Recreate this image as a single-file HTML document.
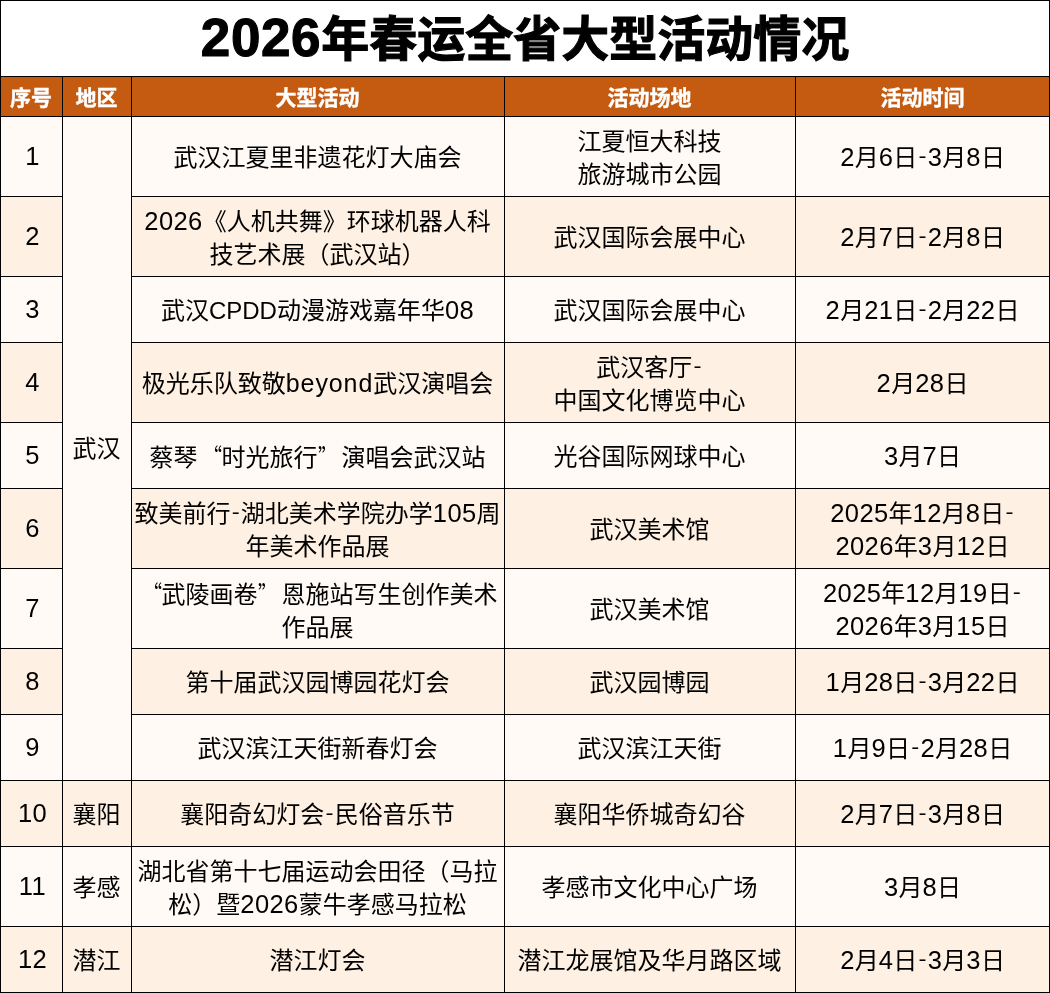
<!DOCTYPE html>
<html lang="zh-CN">
<head>
<meta charset="utf-8">
<title>2026年春运全省大型活动情况</title>
<style>
html,body{margin:0;padding:0;background:#fff;}
body{width:1050px;height:993px;position:relative;overflow:hidden;
  font-family:"Liberation Sans","Noto Sans CJK SC",sans-serif;color:#000;}
.c{position:absolute;display:flex;align-items:center;justify-content:center;text-align:center;
  font-size:24px;line-height:33px;box-sizing:border-box;white-space:nowrap;}
.c>div{position:relative;top:2px;}
.c>div.s{top:1.5px;}
.d{font-size:25.5px;letter-spacing:0.4px;line-height:0;position:relative;top:-0.5px;}
.c>div.n{top:1px;left:1.5px;}
.y{display:inline-block;line-height:0;margin:0 1.2px;transform:translateY(-1.6px) scaleY(0.85);}
.e{font-size:25px;letter-spacing:0.9px;}
.h{color:#fff;font-weight:bold;font-size:21px;background:#C55A11;-webkit-text-stroke:0.4px #fff;}
.h>div{top:1.5px;}
.t{font-weight:bold;font-size:48px;background:#fff;line-height:56px;-webkit-text-stroke:1.1px #000;}
.t>div{top:2.2px;}
.t .d{font-size:53px;letter-spacing:0.6px;top:0;line-height:0;}
.l{position:absolute;background:#000;}
.ql,.qr{display:inline-block;width:24px;font-family:"Noto Sans CJK SC",sans-serif;}
.ql{text-align:right;transform-origin:100% 50%;transform:scaleX(0.78);}
.qr{text-align:left;transform-origin:0 50%;transform:scaleX(0.78);}
</style>
</head>
<body>

<div class="c t" style="left:0px;top:0px;width:1050px;height:76px;"><div><span class="d">2026</span>年春运全省大型活动情况</div></div>
<div class="c h" style="left:0px;top:76px;width:62px;height:40px;"><div>序号</div></div>
<div class="c h" style="left:62px;top:76px;width:69px;height:40px;"><div>地区</div></div>
<div class="c h" style="left:131px;top:76px;width:373px;height:40px;"><div>大型活动</div></div>
<div class="c h" style="left:504px;top:76px;width:291px;height:40px;"><div>活动场地</div></div>
<div class="c h" style="left:795px;top:76px;width:255px;height:40px;"><div>活动时间</div></div>
<div class="c" style="left:0px;top:116px;width:62px;height:80px;background:#FFFAF6;"><div class="n"><span class="d">1</span></div></div>
<div class="c" style="left:131px;top:116px;width:373px;height:80px;background:#FFFAF6;"><div class="s">武汉江夏里非遗花灯大庙会</div></div>
<div class="c" style="left:504px;top:116px;width:291px;height:80px;background:#FFFAF6;"><div>江夏恒大科技<br>旅游城市公园</div></div>
<div class="c" style="left:795px;top:116px;width:255px;height:80px;background:#FFFAF6;"><div class="s"><span class="d">2</span>月<span class="d">6</span>日<span class="y">-</span><span class="d">3</span>月<span class="d">8</span>日</div></div>
<div class="c" style="left:0px;top:196px;width:62px;height:80px;background:#FEF0E2;"><div class="n"><span class="d">2</span></div></div>
<div class="c" style="left:131px;top:196px;width:373px;height:80px;background:#FEF0E2;"><div><span class="d">2026</span>《人机共舞》环球机器人科<br>技艺术展（武汉站）</div></div>
<div class="c" style="left:504px;top:196px;width:291px;height:80px;background:#FEF0E2;"><div class="s">武汉国际会展中心</div></div>
<div class="c" style="left:795px;top:196px;width:255px;height:80px;background:#FEF0E2;"><div class="s"><span class="d">2</span>月<span class="d">7</span>日<span class="y">-</span><span class="d">2</span>月<span class="d">8</span>日</div></div>
<div class="c" style="left:0px;top:276px;width:62px;height:66px;background:#FFFAF6;"><div class="n"><span class="d">3</span></div></div>
<div class="c" style="left:131px;top:276px;width:373px;height:66px;background:#FFFAF6;"><div class="s">武汉CPDD动漫游戏嘉年华<span class="d">08</span></div></div>
<div class="c" style="left:504px;top:276px;width:291px;height:66px;background:#FFFAF6;"><div class="s">武汉国际会展中心</div></div>
<div class="c" style="left:795px;top:276px;width:255px;height:66px;background:#FFFAF6;"><div class="s"><span class="d">2</span>月<span class="d">21</span>日<span class="y">-</span><span class="d">2</span>月<span class="d">22</span>日</div></div>
<div class="c" style="left:0px;top:342px;width:62px;height:80px;background:#FEF0E2;"><div class="n"><span class="d">4</span></div></div>
<div class="c" style="left:131px;top:342px;width:373px;height:80px;background:#FEF0E2;"><div class="s">极光乐队致敬<span class="e">beyond</span>武汉演唱会</div></div>
<div class="c" style="left:504px;top:342px;width:291px;height:80px;background:#FEF0E2;"><div>武汉客厅<span class="y">-</span><br>中国文化博览中心</div></div>
<div class="c" style="left:795px;top:342px;width:255px;height:80px;background:#FEF0E2;"><div class="s"><span class="d">2</span>月<span class="d">28</span>日</div></div>
<div class="c" style="left:0px;top:422px;width:62px;height:66px;background:#FFFAF6;"><div class="n"><span class="d">5</span></div></div>
<div class="c" style="left:131px;top:422px;width:373px;height:66px;background:#FFFAF6;"><div class="s">蔡琴<span class="ql">“</span>时光旅行<span class="qr">”</span>演唱会武汉站</div></div>
<div class="c" style="left:504px;top:422px;width:291px;height:66px;background:#FFFAF6;"><div class="s">光谷国际网球中心</div></div>
<div class="c" style="left:795px;top:422px;width:255px;height:66px;background:#FFFAF6;"><div class="s"><span class="d">3</span>月<span class="d">7</span>日</div></div>
<div class="c" style="left:0px;top:488px;width:62px;height:80px;background:#FEF0E2;"><div class="n"><span class="d">6</span></div></div>
<div class="c" style="left:131px;top:488px;width:373px;height:80px;background:#FEF0E2;"><div>致美前行<span class="y">-</span>湖北美术学院办学<span class="d">105</span>周<br>年美术作品展</div></div>
<div class="c" style="left:504px;top:488px;width:291px;height:80px;background:#FEF0E2;"><div class="s">武汉美术馆</div></div>
<div class="c" style="left:795px;top:488px;width:255px;height:80px;background:#FEF0E2;"><div><span class="d">2025</span>年<span class="d">12</span>月<span class="d">8</span>日<span class="y">-</span><br><span class="d">2026</span>年<span class="d">3</span>月<span class="d">12</span>日</div></div>
<div class="c" style="left:0px;top:568px;width:62px;height:80px;background:#FFFAF6;"><div class="n"><span class="d">7</span></div></div>
<div class="c" style="left:131px;top:568px;width:373px;height:80px;background:#FFFAF6;"><div><span class="ql">“</span>武陵画卷<span class="qr">”</span>恩施站写生创作美术<br>作品展</div></div>
<div class="c" style="left:504px;top:568px;width:291px;height:80px;background:#FFFAF6;"><div class="s">武汉美术馆</div></div>
<div class="c" style="left:795px;top:568px;width:255px;height:80px;background:#FFFAF6;"><div><span class="d">2025</span>年<span class="d">12</span>月<span class="d">19</span>日<span class="y">-</span><br><span class="d">2026</span>年<span class="d">3</span>月<span class="d">15</span>日</div></div>
<div class="c" style="left:0px;top:648px;width:62px;height:66px;background:#FEF0E2;"><div class="n"><span class="d">8</span></div></div>
<div class="c" style="left:131px;top:648px;width:373px;height:66px;background:#FEF0E2;"><div class="s">第十届武汉园博园花灯会</div></div>
<div class="c" style="left:504px;top:648px;width:291px;height:66px;background:#FEF0E2;"><div class="s">武汉园博园</div></div>
<div class="c" style="left:795px;top:648px;width:255px;height:66px;background:#FEF0E2;"><div class="s"><span class="d">1</span>月<span class="d">28</span>日<span class="y">-</span><span class="d">3</span>月<span class="d">22</span>日</div></div>
<div class="c" style="left:0px;top:714px;width:62px;height:66px;background:#FFFAF6;"><div class="n"><span class="d">9</span></div></div>
<div class="c" style="left:131px;top:714px;width:373px;height:66px;background:#FFFAF6;"><div class="s">武汉滨江天街新春灯会</div></div>
<div class="c" style="left:504px;top:714px;width:291px;height:66px;background:#FFFAF6;"><div class="s">武汉滨江天街</div></div>
<div class="c" style="left:795px;top:714px;width:255px;height:66px;background:#FFFAF6;"><div class="s"><span class="d">1</span>月<span class="d">9</span>日<span class="y">-</span><span class="d">2</span>月<span class="d">28</span>日</div></div>
<div class="c" style="left:0px;top:780px;width:62px;height:66px;background:#FEF0E2;"><div class="n"><span class="d">10</span></div></div>
<div class="c" style="left:131px;top:780px;width:373px;height:66px;background:#FEF0E2;"><div class="s">襄阳奇幻灯会<span class="y">-</span>民俗音乐节</div></div>
<div class="c" style="left:504px;top:780px;width:291px;height:66px;background:#FEF0E2;"><div class="s">襄阳华侨城奇幻谷</div></div>
<div class="c" style="left:795px;top:780px;width:255px;height:66px;background:#FEF0E2;"><div class="s"><span class="d">2</span>月<span class="d">7</span>日<span class="y">-</span><span class="d">3</span>月<span class="d">8</span>日</div></div>
<div class="c" style="left:0px;top:846px;width:62px;height:80px;background:#FFFAF6;"><div class="n"><span class="d">11</span></div></div>
<div class="c" style="left:131px;top:846px;width:373px;height:80px;background:#FFFAF6;"><div>湖北省第十七届运动会田径（马拉<br>松）暨<span class="d">2026</span>蒙牛孝感马拉松</div></div>
<div class="c" style="left:504px;top:846px;width:291px;height:80px;background:#FFFAF6;"><div class="s">孝感市文化中心广场</div></div>
<div class="c" style="left:795px;top:846px;width:255px;height:80px;background:#FFFAF6;"><div class="s"><span class="d">3</span>月<span class="d">8</span>日</div></div>
<div class="c" style="left:0px;top:926px;width:62px;height:66px;background:#FEF0E2;"><div class="n"><span class="d">12</span></div></div>
<div class="c" style="left:131px;top:926px;width:373px;height:66px;background:#FEF0E2;"><div class="s">潜江灯会</div></div>
<div class="c" style="left:504px;top:926px;width:291px;height:66px;background:#FEF0E2;"><div class="s">潜江龙展馆及华月路区域</div></div>
<div class="c" style="left:795px;top:926px;width:255px;height:66px;background:#FEF0E2;"><div class="s"><span class="d">2</span>月<span class="d">4</span>日<span class="y">-</span><span class="d">3</span>月<span class="d">3</span>日</div></div>
<div class="c" style="left:62px;top:116px;width:69px;height:664px;background:#FFFAF6;"><div class="s" style="top:0.5px">武汉</div></div>
<div class="c" style="left:62px;top:780px;width:69px;height:66px;background:#FEF0E2;"><div class="s">襄阳</div></div>
<div class="c" style="left:62px;top:846px;width:69px;height:80px;background:#FFFAF6;"><div class="s">孝感</div></div>
<div class="c" style="left:62px;top:926px;width:69px;height:66px;background:#FEF0E2;"><div class="s">潜江</div></div>
<div class="l" style="left:0px;top:0px;width:1px;height:993px"></div>
<div class="l" style="left:62px;top:76px;width:1px;height:917px"></div>
<div class="l" style="left:131px;top:76px;width:1px;height:917px"></div>
<div class="l" style="left:504px;top:76px;width:1px;height:917px"></div>
<div class="l" style="left:795px;top:76px;width:1px;height:917px"></div>
<div class="l" style="left:1049px;top:0px;width:1px;height:993px"></div>
<div class="l" style="left:0;top:0px;width:1050px;height:1px"></div>
<div class="l" style="left:0;top:76px;width:1050px;height:1px"></div>
<div class="l" style="left:0;top:116px;width:1050px;height:1px"></div>
<div class="l" style="left:0;top:196px;width:63px;height:1px"></div>
<div class="l" style="left:131px;top:196px;width:919px;height:1px"></div>
<div class="l" style="left:0;top:276px;width:63px;height:1px"></div>
<div class="l" style="left:131px;top:276px;width:919px;height:1px"></div>
<div class="l" style="left:0;top:342px;width:63px;height:1px"></div>
<div class="l" style="left:131px;top:342px;width:919px;height:1px"></div>
<div class="l" style="left:0;top:422px;width:63px;height:1px"></div>
<div class="l" style="left:131px;top:422px;width:919px;height:1px"></div>
<div class="l" style="left:0;top:488px;width:63px;height:1px"></div>
<div class="l" style="left:131px;top:488px;width:919px;height:1px"></div>
<div class="l" style="left:0;top:568px;width:63px;height:1px"></div>
<div class="l" style="left:131px;top:568px;width:919px;height:1px"></div>
<div class="l" style="left:0;top:648px;width:63px;height:1px"></div>
<div class="l" style="left:131px;top:648px;width:919px;height:1px"></div>
<div class="l" style="left:0;top:714px;width:63px;height:1px"></div>
<div class="l" style="left:131px;top:714px;width:919px;height:1px"></div>
<div class="l" style="left:0;top:780px;width:1050px;height:1px"></div>
<div class="l" style="left:0;top:846px;width:1050px;height:1px"></div>
<div class="l" style="left:0;top:926px;width:1050px;height:1px"></div>
<div class="l" style="left:0;top:992px;width:1050px;height:1px"></div>
</body>
</html>
